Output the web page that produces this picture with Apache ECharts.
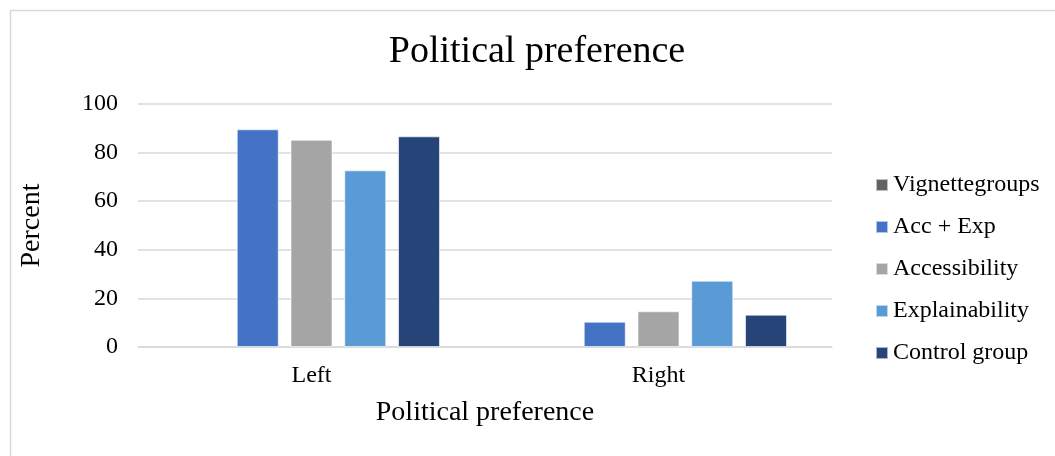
<!DOCTYPE html>
<html>
<head>
<meta charset="utf-8">
<script src="https://cdn.jsdelivr.net/npm/echarts@6/dist/echarts.min.js"></script>
<style>
  html, body { margin: 0; padding: 0; background: #fff; }
  #chart { width: 1055px; height: 456px; }
</style>
</head>
<body>
<div id="chart"></div>
<script>
// Political preference by vignette group (percent)
const categories = ['Left', 'Right'];
const seriesNames = ['Vignettegroups', 'Acc + Exp', 'Accessibility', 'Explainability', 'Control group'];
const vignetteGroups = [null, null];
const accExp = [89.6, 10.4];
const accessibility = [85.3, 14.7];
const explainability = [72.7, 27.3];
const controlGroup = [86.7, 13.3];
const yTicks = [0, 20, 40, 60, 80, 100];

const colors = ['#636363', '#4472C4', '#A5A5A5', '#5B9BD5', '#264478'];
const seriesData = [vignetteGroups, accExp, accessibility, explainability, controlGroup];
const font = '"Liberation Serif", "DejaVu Serif", serif';

const chart = echarts.init(document.getElementById('chart'), null, { renderer: 'canvas' });
chart.setOption({
  animation: false,
  textStyle: { fontFamily: font },
  graphic: [{
    type: 'rect',
    left: 8, top: 8,
    shape: { width: 1100, height: 500 },
    style: { fill: 'none', stroke: '#d9d9d9', lineWidth: 1.5 },
    silent: true
  }],
  title: {
    text: 'Political preference',
    left: 532, top: 28,
    textAlign: 'center',
    textStyle: { fontFamily: font, fontSize: 38, fontWeight: 'normal', color: '#000' }
  },
  legend: {
    orient: 'vertical',
    left: 875, top: 173,
    padding: 0,
    itemWidth: 12, itemHeight: 12, itemGap: 18,
    icon: 'rect',
    textStyle: { fontFamily: font, fontSize: 24, color: '#000' },
    data: seriesNames
  },
  grid: { left: 138, right: 223, top: 104, bottom: 109, containLabel: false },
  xAxis: {
    type: 'category',
    data: categories,
    name: 'Political preference',
    nameLocation: 'middle',
    nameGap: 52,
    nameTextStyle: { fontFamily: font, fontSize: 28, color: '#000' },
    axisLine: { show: true, lineStyle: { color: '#d9d9d9', width: 1.5 } },
    axisTick: { show: false },
    axisLabel: { fontFamily: font, fontSize: 24, color: '#000', margin: 17 }
  },
  yAxis: {
    type: 'value',
    min: yTicks[0], max: yTicks[yTicks.length - 1], interval: 20,
    name: 'Percent',
    nameLocation: 'middle',
    nameGap: 92,
    nameRotate: 90,
    nameTextStyle: { fontFamily: font, fontSize: 28, color: '#000' },
    axisLine: { show: false },
    axisTick: { show: false },
    axisLabel: { fontFamily: font, fontSize: 24, color: '#000', margin: 20 },
    splitLine: { lineStyle: { color: '#d9d9d9', width: 1.5 } }
  },
  series: seriesNames.map((name, i) => ({
    name: name,
    type: 'bar',
    data: seriesData[i],
    barWidth: 42,
    barGap: '28%',
    itemStyle: { color: colors[i], borderColor: 'rgba(255,255,255,0.6)', borderWidth: 1 }
  }))
});
</script>
</body>
</html>
